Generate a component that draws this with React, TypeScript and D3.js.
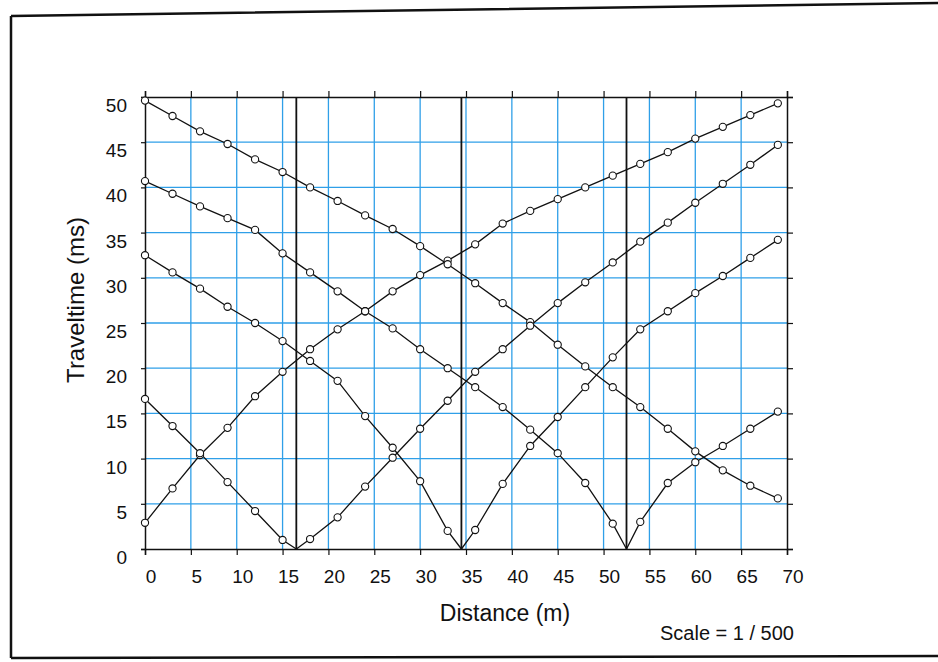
import React, { useRef, useEffect } from "react";
import * as d3 from "d3";

// geophone positions (m)
const geophones = [0, 3, 6, 9, 12, 15, 18, 21, 24, 27, 30, 33, 36, 39, 42, 45, 48, 51, 54, 57, 60, 63, 66, 69];
// shot points inside the spread (m)
const shots = [16.5, 34.5, 52.5];

// end shots, read at every geophone (ms)
const endShotLeft = [2.9, 6.7, 10.4, 13.4, 16.9, 19.6, 22.1, 24.3, 26.3, 28.5, 30.3, 31.9, 33.7, 36.0, 37.4, 38.7, 40.0, 41.3, 42.6, 43.9, 45.4, 46.7, 48.0, 49.3];
const endShotRight = [49.6, 47.9, 46.2, 44.8, 43.1, 41.7, 40.0, 38.5, 36.9, 35.4, 33.5, 31.5, 29.4, 27.2, 25.1, 22.6, 20.2, 17.9, 15.7, 13.3, 10.8, 8.7, 7.0, 5.6];

// shot 1 (16.5 m)
const shot1Left = [16.6, 13.6, 10.6, 7.4, 4.2, 1.0];
const shot1Right = [1.1, 3.5, 6.9, 10.1, 13.3, 16.4, 19.6, 22.1, 24.7, 27.2, 29.5, 31.7, 34.0, 36.1, 38.3, 40.4, 42.5, 44.7];
// shot 2 (34.5 m)
const shot2Left = [32.5, 30.6, 28.8, 26.8, 25.0, 23.0, 20.8, 18.6, 14.7, 11.2, 7.5, 2.0];
const shot2Right = [2.1, 7.2, 11.4, 14.6, 17.9, 21.2, 24.3, 26.3, 28.3, 30.2, 32.2, 34.2];
// shot 3 (52.5 m)
const shot3Left = [40.7, 39.3, 37.9, 36.6, 35.3, 32.7, 30.6, 28.5, 26.3, 24.4, 22.1, 20.0, 17.9, 15.7, 13.2, 10.6, 7.3, 2.8];
const shot3Right = [3.0, 7.3, 9.6, 11.4, 13.3, 15.2];

const xTicks = [0, 5, 10, 15, 20, 25, 30, 35, 40, 45, 50, 55, 60, 65, 70];
const yTicks = [0, 5, 10, 15, 20, 25, 30, 35, 40, 45, 50];

type Pt = { x: number; t: number; shot?: boolean };

const App: React.FC = () => {
  const svgRef = useRef<SVGSVGElement>(null);

  useEffect(() => {
    if (!svgRef.current) return;
    const svg = d3.select(svgRef.current);
    svg.selectAll("*").remove();

    const font = "Liberation Sans, Arial, sans-serif";
    const x = d3.scaleLinear().domain([0, 70]).range([145, 787]);
    const y = d3.scaleLinear().domain([0, 50]).range([549, 97]);

    // page frame of the scan
    svg
      .append("path")
      .attr("d", "M11,16 L938,3 M11,16 L11,658 M11,658 L938,656")
      .attr("fill", "none")
      .attr("stroke", "#111")
      .attr("stroke-width", 2.5);

    // blue grid
    const grid = svg.append("g").attr("stroke", "#2f9fe8").attr("stroke-width", 1.3);
    grid
      .selectAll("line.v")
      .data(xTicks.slice(1, -1))
      .join("line")
      .attr("x1", (d) => x(d))
      .attr("x2", (d) => x(d))
      .attr("y1", y(50))
      .attr("y2", y(0));
    grid
      .selectAll("line.h")
      .data(yTicks.slice(1, -1))
      .join("line")
      .attr("x1", x(0))
      .attr("x2", x(70))
      .attr("y1", (d) => y(d))
      .attr("y2", (d) => y(d));

    // shot point verticals
    svg
      .append("g")
      .selectAll("line")
      .data(shots)
      .join("line")
      .attr("x1", (d) => x(d))
      .attr("x2", (d) => x(d))
      .attr("y1", y(50))
      .attr("y2", y(0))
      .attr("stroke", "#111")
      .attr("stroke-width", 1.8);

    // axes box with ticks on all sides
    const axisG = svg.append("g");
    axisG
      .append("g")
      .attr("transform", `translate(0,${y(0)})`)
      .call(d3.axisBottom(x).tickValues(xTicks).tickSize(6).tickFormat(() => ""));
    axisG
      .append("g")
      .attr("transform", `translate(0,${y(50)})`)
      .call(d3.axisTop(x).tickValues(xTicks).tickSize(6).tickFormat(() => ""));
    axisG
      .append("g")
      .attr("transform", `translate(${x(0)},0)`)
      .call(d3.axisLeft(y).tickValues(yTicks).tickSize(4).tickFormat(() => ""));
    axisG
      .append("g")
      .attr("transform", `translate(${x(70)},0)`)
      .call(d3.axisRight(y).tickValues(yTicks).tickSize(6).tickFormat(() => ""));
    axisG.selectAll(".domain").attr("stroke", "#111").attr("stroke-width", 1.5);
    axisG.selectAll(".tick line").attr("stroke", "#111").attr("stroke-width", 1.2);

    // tick labels
    svg
      .append("g")
      .selectAll("text")
      .data(xTicks)
      .join("text")
      .attr("x", (d) => x(d) + 6)
      .attr("y", y(0) + 34)
      .attr("text-anchor", "middle")
      .attr("font-family", font)
      .attr("font-size", 19)
      .attr("fill", "#111")
      .text((d) => d);
    svg
      .append("g")
      .selectAll("text")
      .data(yTicks)
      .join("text")
      .attr("x", x(0) - 18)
      .attr("y", (d) => y(d) + 15)
      .attr("text-anchor", "end")
      .attr("font-family", font)
      .attr("font-size", 19)
      .attr("fill", "#111")
      .text((d) => d);

    // titles
    svg
      .append("text")
      .attr("transform", "translate(84,300) rotate(-90)")
      .attr("text-anchor", "middle")
      .attr("font-family", font)
      .attr("font-size", 24)
      .attr("fill", "#111")
      .text("Traveltime (ms)");
    svg
      .append("text")
      .attr("x", 505)
      .attr("y", 621)
      .attr("text-anchor", "middle")
      .attr("font-family", font)
      .attr("font-size", 23)
      .attr("fill", "#111")
      .text("Distance (m)");
    svg
      .append("text")
      .attr("x", 727)
      .attr("y", 640)
      .attr("text-anchor", "middle")
      .attr("font-family", font)
      .attr("font-size", 20)
      .attr("fill", "#111")
      .text("Scale = 1 / 500");

    // build branches
    const pts = (xs: number[], ts: number[]): Pt[] => ts.map((t, i) => ({ x: xs[i], t }));
    const g1L = geophones.filter((g) => g < shots[0]);
    const g1R = geophones.filter((g) => g > shots[0]);
    const g2L = geophones.filter((g) => g < shots[1]);
    const g2R = geophones.filter((g) => g > shots[1]);
    const g3L = geophones.filter((g) => g < shots[2]);
    const g3R = geophones.filter((g) => g > shots[2]);
    const sp = (s: number): Pt => ({ x: s, t: 0, shot: true });

    const branches: Pt[][] = [
      pts(geophones, endShotLeft),
      pts(geophones, endShotRight),
      [...pts(g1L, shot1Left), sp(shots[0])],
      [sp(shots[0]), ...pts(g1R, shot1Right)],
      [...pts(g2L, shot2Left), sp(shots[1])],
      [sp(shots[1]), ...pts(g2R, shot2Right)],
      [...pts(g3L, shot3Left), sp(shots[2])],
      [sp(shots[2]), ...pts(g3R, shot3Right)],
    ];

    const line = d3
      .line<Pt>()
      .x((d) => x(d.x))
      .y((d) => y(d.t));

    svg
      .append("g")
      .selectAll("path")
      .data(branches)
      .join("path")
      .attr("d", (d) => line(d))
      .attr("fill", "none")
      .attr("stroke", "#111")
      .attr("stroke-width", 1.3);

    svg
      .append("g")
      .selectAll("circle")
      .data(branches.flat().filter((d) => !d.shot))
      .join("circle")
      .attr("cx", (d) => x(d.x))
      .attr("cy", (d) => y(d.t))
      .attr("r", 3.6)
      .attr("fill", "#fff")
      .attr("stroke", "#111")
      .attr("stroke-width", 1.1);
  }, []);

  return (
    <svg
      ref={svgRef}
      width={938}
      height={662}
      style={{ position: "absolute", left: 0, top: 0, background: "#fff" }}
    />
  );
};

export default App;
